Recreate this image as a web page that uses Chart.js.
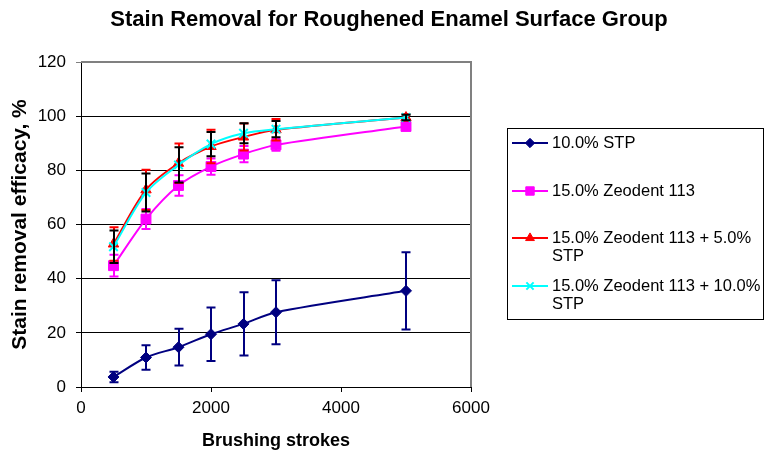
<!DOCTYPE html>
<html>
<head>
<meta charset="utf-8">
<title>Stain Removal for Roughened Enamel Surface Group</title>
<script src="https://cdn.jsdelivr.net/npm/chart.js@4/dist/chart.umd.min.js"></script>
<style>
    html, body { margin: 0; padding: 0; background: #fff; }
    #wrap { width: 768px; height: 452px; }
</style>
</head>
<body>
<div id="wrap"><canvas id="stainChart" width="768" height="452"></canvas></div>
<script>
/* ==================== DATA ==================== */

const chartTitle = 'Stain Removal for Roughened Enamel Surface Group';

const strokes = [500, 1000, 1500, 2000, 2500, 3000, 5000];

const stp10 = [3.7, 10.9, 14.7, 19.5, 23.3, 27.6, 35.5];
const stp10Err = [1.9, 4.5, 6.8, 9.9, 11.7, 11.8, 14.3];

const zeo15 = [44.8, 62.0, 74.4, 81.4, 86.0, 89.4, 96.2];
const zeo15Err = [4.0, 3.7, 3.8, 3.0, 3.0, 2.2, 1.0];

const zeoStp5 = [52.8, 72.8, 82.6, 88.8, 92.3, 95.0, 99.5];
const zeoStp5Err = [6.2, 7.4, 7.3, 6.2, 5.0, 4.0, 1.2];

const zeoStp10 = [51.8, 71.8, 82.0, 89.7, 93.7, 95.2, 99.5];
const zeoStp10Err = [6.0, 7.0, 6.5, 4.5, 3.7, 3.0, 1.0];

const seriesLabels = [
    ['10.0% STP'],
    ['15.0% Zeodent 113'],
    ['15.0% Zeodent 113 + 5.0%', 'STP'],
    ['15.0% Zeodent 113 + 10.0%', 'STP']
];

const xTicks = [0, 2000, 4000, 6000];
const yTicks = [0, 20, 40, 60, 80, 100, 120];

const FONT = "'Liberation Sans', Arial, Helvetica, sans-serif";

function toPoints(values) {
    return strokes.map((x, i) => ({ x: x, y: values[i] }));
}

/* ==================== PLUGINS ==================== */

// title centred over the whole picture (not just the plot)
const pageTitle = {
    id: 'pageTitle',
    afterDraw(chart) {
        const ctx = chart.ctx;
        ctx.save();
        ctx.fillStyle = '#000';
        ctx.font = 'bold 22px ' + FONT;
        ctx.textAlign = 'center';
        ctx.textBaseline = 'middle';
        ctx.fillText(chartTitle, 389, 20);
        ctx.restore();
    }
};

// vertical error bars, drawn right after each dataset
const errorBars = {
    id: 'errorBars',
    afterDatasetDraw(chart, args) {
        const ds = chart.data.datasets[args.index];
        if (!ds.errors) return;
        const ctx = chart.ctx;
        const xs = chart.scales.x, ys = chart.scales.y;
        ctx.save();
        ctx.strokeStyle = ds.errorColor;
        ctx.lineWidth = 2;
        ds.data.forEach((p, i) => {
            const x = Math.round(xs.getPixelForValue(p.x));
            const yTop = ys.getPixelForValue(p.y + ds.errors[i]);
            const yBot = ys.getPixelForValue(Math.max(0, p.y - ds.errors[i]));
            ctx.beginPath();
            ctx.moveTo(x, yTop); ctx.lineTo(x, yBot);
            ctx.moveTo(x - 4.5, yTop); ctx.lineTo(x + 4.5, yTop);
            ctx.moveTo(x - 4.5, yBot); ctx.lineTo(x + 4.5, yBot);
            ctx.stroke();
        });
        ctx.restore();
    }
};

// gray plot area frame on top and right
const plotFrame = {
    id: 'plotFrame',
    beforeDatasetsDraw(chart) {
        const a = chart.chartArea;
        const ctx = chart.ctx;
        ctx.save();
        ctx.strokeStyle = '#808080';
        ctx.lineWidth = 2;
        ctx.beginPath();
        ctx.moveTo(a.left, a.top);
        ctx.lineTo(a.right, a.top);
        ctx.lineTo(a.right, a.bottom);
        ctx.stroke();
        ctx.restore();
    }
};

// boxed legend at the right, with wrapped labels
const boxLegend = {
    id: 'boxLegend',
    afterDraw(chart) {
        const ctx = chart.ctx;
        const box = { left: 507, top: 128, right: 763, bottom: 319 };
        const rowY = [143, 191, 238, 286];
        const lineH = 18;

        ctx.save();
        ctx.strokeStyle = '#000';
        ctx.lineWidth = 1;
        ctx.strokeRect(box.left + 0.5, box.top + 0.5, box.right - box.left, box.bottom - box.top);

        ctx.font = '16.5px ' + FONT;
        ctx.textBaseline = 'middle';
        ctx.textAlign = 'left';

        chart.data.datasets.forEach((ds, i) => {
            const y = rowY[i];
            ctx.strokeStyle = ds.borderColor;
            ctx.lineWidth = 2;
            ctx.beginPath();
            ctx.moveTo(512, y);
            ctx.lineTo(548, y);
            ctx.stroke();

            ctx.fillStyle = ds.pointBackgroundColor;
            ctx.strokeStyle = ds.pointBorderColor;
            ctx.lineWidth = ds.pointBorderWidth;
            Chart.helpers.drawPoint(ctx, {
                pointStyle: ds.pointStyle,
                radius: ds.pointRadius * 0.85,
                rotation: 0,
                borderWidth: ds.pointBorderWidth
            }, 530, y);

            ctx.fillStyle = '#000';
            ds.legendLines.forEach((t, k) => {
                ctx.fillText(t, 552, y + k * lineH);
            });
        });
        ctx.restore();
    }
};

/* ==================== CHART ==================== */

// later series sit on top, like in the original spreadsheet chart
function makeSeries(index, values, errors, color, errColor, style, radius) {
    const label = seriesLabels[index];
    return {
        label: label.join(' '),
        legendLines: label,
        order: seriesLabels.length - index,
        data: toPoints(values),
        errors: errors,
        errorColor: errColor,
        borderColor: color,
        backgroundColor: color,
        borderWidth: 2,
        tension: 0.3,
        pointStyle: style,
        pointRadius: radius,
        pointBackgroundColor: color,
        pointBorderColor: color,
        pointBorderWidth: style === 'crossRot' ? 2 : 1,
        fill: false
    };
}

const ctx = document.getElementById('stainChart').getContext('2d');
new Chart(ctx, {
    type: 'line',
    data: {
        datasets: [
            makeSeries(0, stp10, stp10Err, '#000080', '#000080', 'rectRot', 5.5),
            makeSeries(1, zeo15, zeo15Err, '#ff00ff', '#ff00ff', 'rect', 7),
            makeSeries(2, zeoStp5, zeoStp5Err, '#ff0000', '#ff0000', 'triangle', 6),
            makeSeries(3, zeoStp10, zeoStp10Err, '#00ffff', '#000000', 'crossRot', 6)
        ]
    },
    options: {
        responsive: false,
        animation: false,
        layout: { autoPadding: false, padding: { left: 5, right: 297, top: 62, bottom: 0 } },
        plugins: {
            legend: { display: false },
            tooltip: { enabled: false },
            title: { display: false }
        },
        scales: {
            x: {
                type: 'linear',
                min: 0,
                max: 6000,
                afterBuildTicks: scale => { scale.ticks = xTicks.map(v => ({ value: v })); },
                afterFit: scale => { scale.height = 65; },
                border: { color: '#000', width: 1 },
                grid: { drawOnChartArea: false, drawTicks: true, tickLength: 5, color: '#000' },
                ticks: {
                    color: '#000', padding: 6, maxRotation: 0,
                    font: { family: FONT, size: 17 },
                    callback: v => String(v)
                },
                title: {
                    display: true,
                    text: 'Brushing strokes',
                    color: '#000',
                    font: { family: FONT, size: 18, weight: 'bold' },
                    padding: { top: 12, bottom: 0 }
                }
            },
            y: {
                type: 'linear',
                min: 0,
                max: 120,
                afterBuildTicks: scale => { scale.ticks = yTicks.map(v => ({ value: v })); },
                afterFit: scale => { scale.width = 76; },
                border: { color: '#000', width: 1 },
                grid: {
                    tickLength: 5,
                    color: c => (c.tick && c.tick.value === 120) ? '#808080' : '#000'
                },
                ticks: { color: '#000', padding: 10, font: { family: FONT, size: 17 } },
                title: {
                    display: true,
                    text: 'Stain removal efficacy, %',
                    color: '#000',
                    font: { family: FONT, size: 21, weight: 'bold' },
                    padding: { top: 3, bottom: 6 }
                }
            }
        }
    },
    plugins: [plotFrame, errorBars, boxLegend, pageTitle]
});
</script>
</body>
</html>
